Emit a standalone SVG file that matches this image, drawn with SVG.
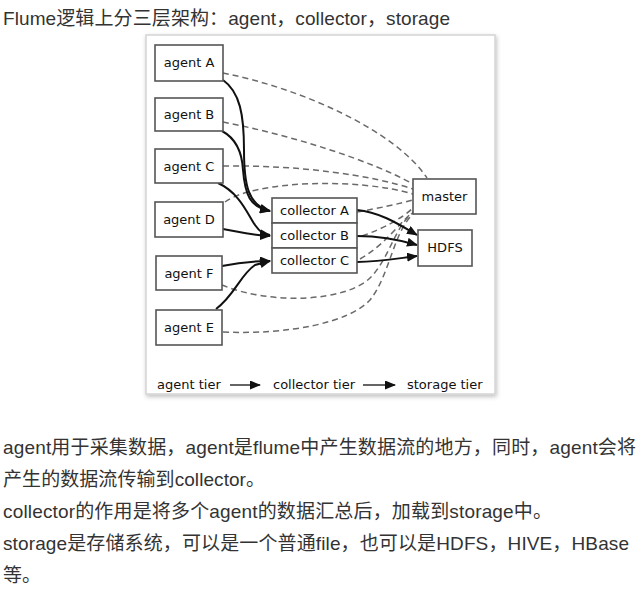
<svg xmlns="http://www.w3.org/2000/svg" width="644" height="599" viewBox="0 0 644 599">
<defs>
<style>
.para{font-family:"Liberation Sans","Noto Sans CJK SC",sans-serif;font-size:19px;fill:#333;}
.box{fill:#fff;stroke:#555;stroke-width:1.6;}
.lbl{font-family:"DejaVu Sans",sans-serif;font-size:13px;fill:#111;text-anchor:middle;}
.leg{font-family:"DejaVu Sans",sans-serif;font-size:13px;fill:#111;}
.solid{fill:none;stroke:#111;stroke-width:2;marker-end:url(#arr);}
.dash{fill:none;stroke:#6a6a6a;stroke-width:1.5;stroke-dasharray:6 4;}
</style>
<marker id="arr" markerUnits="userSpaceOnUse" markerWidth="11" markerHeight="9" refX="10" refY="4.5" orient="auto">
<path d="M0,0 L11,4.5 L0,9 Z" fill="#111"/>
</marker>
<filter id="sh" x="-5%" y="-5%" width="112%" height="112%">
<feDropShadow dx="1" dy="2" stdDeviation="2" flood-color="#000" flood-opacity="0.25"/>
</filter>
</defs>
<rect width="644" height="599" fill="#fff"/>
<text class="para" x="3" y="25" textLength="447" lengthAdjust="spacing">Flume逻辑上分三层架构：agent，collector，storage</text>
<rect x="146" y="35" width="349" height="359" fill="#fff" stroke="#d4d4d4" stroke-width="1.5" filter="url(#sh)"/>
<g id="connectors">
<path class="dash" d="M223,73 C300,88 395,130 427,178"/>
<path class="dash" d="M223,122 C290,135 370,160 413,184"/>
<path class="dash" d="M223,166 C300,165 370,175 413,189"/>
<path class="dash" d="M225,202 C255,180 360,178 413,194"/>
<path class="dash" d="M357,212 C380,208 398,204 413,200"/>
<path class="dash" d="M362,236 C385,228 402,218 413,208"/>
<path class="dash" d="M360,259 C385,245 400,222 414,211"/>
<path class="dash" d="M222,285 C270,305 345,302 370,278 C390,258 395,225 414,212"/>
<path class="dash" d="M223,332 C290,335 350,322 370,300 C390,275 393,232 414,213"/>
<path class="solid" d="M223,80 C240,92 244,115 244,150 C244,185 248,205 270,211"/>
<path class="solid" d="M222,131 C235,138 242,150 243,170 C245,195 250,207 270,211"/>
<path class="solid" d="M218,183 C240,193 248,215 255,225 C260,232 263,234 270,235"/>
<path class="solid" d="M223,229 C240,232 250,235 270,236"/>
<path class="solid" d="M222,266 C240,262 255,261 270,261"/>
<path class="solid" d="M216,309 C235,295 240,275 255,265 L270,261"/>
<path class="solid" d="M357,210 C380,212 400,225 417,235"/>
<path class="solid" d="M357,236 C380,236 400,240 417,245"/>
<path class="solid" d="M357,262 C380,262 400,258 417,256"/>
<line x1="230" y1="385" x2="260" y2="385" stroke="#111" stroke-width="1.3" marker-end="url(#arr)"/>
<line x1="363" y1="385" x2="395" y2="385" stroke="#111" stroke-width="1.3" marker-end="url(#arr)"/>
</g>
<g id="agentA"><rect class="box" x="155" y="45" width="68" height="36"/><text class="lbl" x="189" y="67">agent A</text></g>
<g id="agentB"><rect class="box" x="155" y="98" width="68" height="33"/><text class="lbl" x="189" y="119">agent B</text></g>
<g id="agentC"><rect class="box" x="155" y="149" width="68" height="34"/><text class="lbl" x="189" y="171">agent C</text></g>
<g id="agentD"><rect class="box" x="155" y="202" width="68" height="35"/><text class="lbl" x="189" y="224">agent D</text></g>
<g id="agentF"><rect class="box" x="156" y="256" width="66" height="34"/><text class="lbl" x="189" y="278">agent F</text></g>
<g id="agentE"><rect class="box" x="156" y="310" width="66" height="35"/><text class="lbl" x="189" y="332">agent E</text></g>
<g id="collectorA"><rect class="box" x="272" y="198" width="85" height="25"/><text class="lbl" x="314.5" y="215">collector A</text></g>
<g id="collectorB"><rect class="box" x="272" y="223" width="85" height="25"/><text class="lbl" x="314.5" y="240">collector B</text></g>
<g id="collectorC"><rect class="box" x="272" y="248" width="85" height="25"/><text class="lbl" x="314.5" y="265">collector C</text></g>
<g id="master"><rect class="box" x="413" y="179" width="63" height="35"/><text class="lbl" x="444.5" y="201">master</text></g>
<g id="HDFS"><rect class="box" x="418" y="230" width="54" height="36"/><text class="lbl" x="445" y="252">HDFS</text></g>
<g id="legend">
<text class="leg" x="157" y="389">agent tier</text>
<text class="leg" x="273" y="389">collector tier</text>
<text class="leg" x="407" y="389">storage tier</text>
</g>
<text class="para" x="3" y="454" textLength="633" lengthAdjust="spacing">agent用于采集数据，agent是flume中产生数据流的地方，同时，agent会将</text>
<text class="para" x="3" y="486" textLength="262" lengthAdjust="spacing">产生的数据流传输到collector。</text>
<text class="para" x="3" y="518" textLength="549" lengthAdjust="spacing">collector的作用是将多个agent的数据汇总后，加载到storage中。</text>
<text class="para" x="3" y="550" textLength="626" lengthAdjust="spacing">storage是存储系统，可以是一个普通file，也可以是HDFS，HIVE，HBase</text>
<text class="para" x="3" y="582">等。</text>
</svg>
